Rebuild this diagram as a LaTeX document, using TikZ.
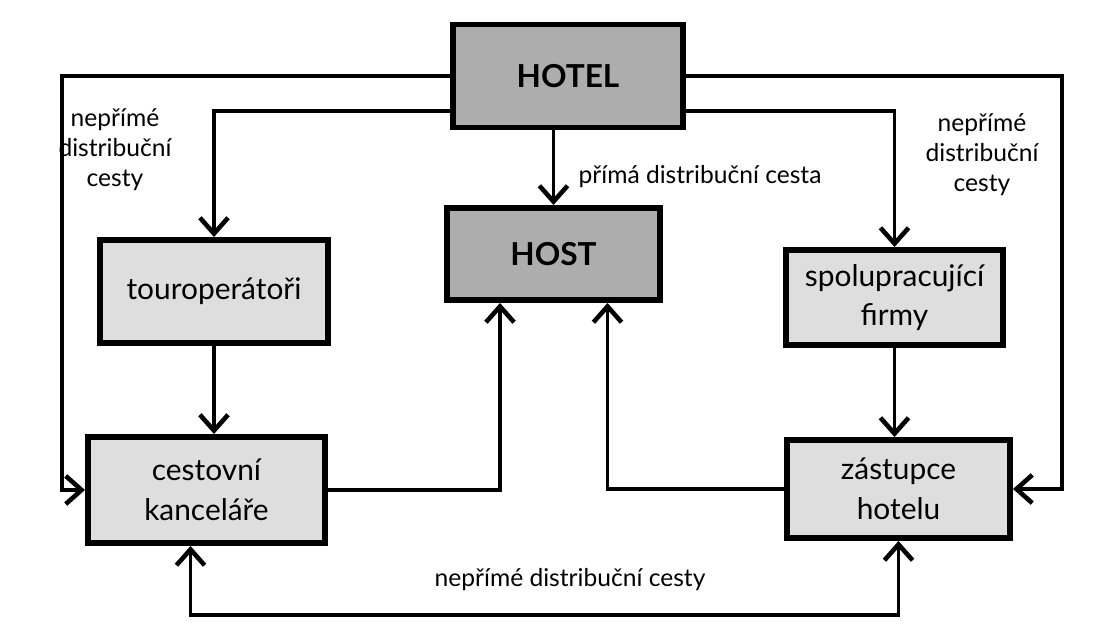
\documentclass[tikz,border=0pt]{standalone}
\usepackage{fontspec}
\setmainfont{Lato}
\usetikzlibrary{arrows.meta}

\tikzset{
  box/.style={draw=black,line width=3.4pt,fill=black!13,align=center,
    inner sep=2pt,font=\fontsize{17}{22.5}\selectfont},
  darkbox/.style={box,fill=black!32,font=\fontsize{18}{24}\selectfont\bfseries},
  link/.style={line width=2.1pt,-{Straight Barb[length=9pt,width=16pt,line width=2.6pt]}},
  both/.style={line width=2.1pt,{Straight Barb[length=9pt,width=16pt,line width=2.6pt]}-{Straight Barb[length=9pt,width=16pt,line width=2.6pt]}},
  lbl/.style={align=center,font=\fontsize{14}{17}\selectfont}
}

\begin{document}
\begin{tikzpicture}
        \useasboundingbox (0,0) rectangle (21.92,12.6);

        % top and middle
        \node[darkbox,minimum width=4.6cm,minimum height=2.06cm] (hotel) at (11.36,11.08) {HOTEL};
        \node[darkbox,minimum width=4.26cm,minimum height=1.84cm] (host) at (11.07,7.52) {HOST};

        % intermediaries
        \node[box,minimum width=4.56cm,minimum height=2.06cm] (tour) at (4.28,6.77) {touroperátoři};
        \node[box,minimum width=4.34cm,minimum height=1.9cm] (spol) at (17.89,6.65) {spolupracující\\firmy};
        \node[box,minimum width=4.74cm,minimum height=2.12cm] (cest) at (4.13,2.8) {cestovní\\kanceláře};
        \node[box,minimum width=4.46cm,minimum height=1.96cm] (zast) at (17.97,2.82) {zástupce\\hotelu};

        % turning points of the outer lines
        \coordinate (outl) at (1.24,11.08);
        \coordinate (outr) at (21.24,11.08);

        % hotel to everyone
        \draw[link] (hotel.west) -- (outl) |- (cest.west);
        \draw[link] (hotel.east) -- (outr) |- (zast.east);
        \draw[link] ([yshift=-0.7cm]hotel.west) -| (tour.north);
        \draw[link] ([yshift=-0.7cm]hotel.east) -| (spol.north);
        \draw[link] (hotel.south -| host.north) -- (host.north);

        % down the sides
        \draw[link] (tour.south) -- (tour.south |- cest.north);
        \draw[link] (spol.south) -- (spol.south |- zast.north);

        % back up to the guest
        \draw[link] (cest.east) -| ([xshift=-1.07cm]host.south);
        \draw[link] (zast.west) -| ([xshift=1.08cm]host.south);

        % bottom loop
        \draw[both] ([xshift=-0.32cm]cest.south) -- ++(0,-1.38) -| (zast.south);

        % labels
        \node[lbl] (direct) at (14.0,9.06) {přímá distribuční cesta};
        \node[lbl] (indl) at (2.3,9.6) {nepřímé\\distribuční\\cesty};
        \node[lbl] (indr) at (19.64,9.5) {nepřímé\\distribuční\\cesty};
        \node[lbl] (indb) at (11.4,1.0) {nepřímé distribuční cesty};
\end{tikzpicture}
\end{document}
